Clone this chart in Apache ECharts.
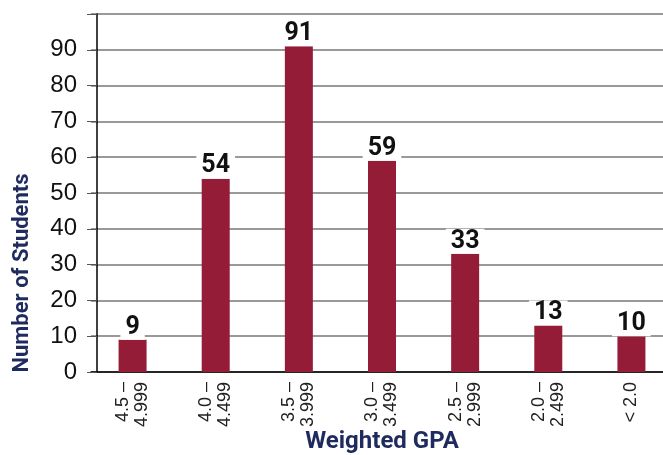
<!DOCTYPE html>
<html>
<head>
<meta charset="utf-8">
<script src="https://cdn.jsdelivr.net/npm/echarts@6/dist/echarts.min.js"></script>
<style>
  html, body { margin: 0; padding: 0; background: #fff; }
  #chart { width: 663px; height: 455px; }
</style>
</head>
<body>
<div id="chart"></div>
<script>
{
    var dom = document.querySelector('#chart');
    var myChart = echarts.init(dom, null, { renderer: 'canvas' });

    const categories = ['4.5 –\n4.999', '4.0 –\n4.499', '3.5 –\n3.999', '3.0 –\n3.499', '2.5 –\n2.999', '2.0 –\n2.499', '< 2.0'];
    const students = [9, 54, 91, 59, 33, 13, 10];
    const yTicks = [0, 10, 20, 30, 40, 50, 60, 70, 80, 90, 100];

    const navy = '#1f2b5e';
    const bold = 'Roboto, sans-serif';
    const plain = '"Liberation Sans", Arial, sans-serif';

    const option = {
        animation: false,
        grid: { left: 91, top: 14, width: 582, bottom: 83, containLabel: false, outerBoundsMode: 'none' },
        xAxis: {
            type: 'category',
            data: categories,
            name: 'Weighted GPA',
            nameLocation: 'middle',
            nameGap: 58,
            nameMoveOverlap: false,
            nameTextStyle: {
                color: navy, fontFamily: bold, fontWeight: 'bold', fontSize: 24
            },
            axisLine: { lineStyle: { color: '#000', width: 1.5 } },
            axisTick: { length: 6, lineStyle: { color: '#555' }, interval: 0 },
            axisLabel: {
                rotate: 90, margin: 10, interval: 0,
                fontFamily: plain, fontSize: 18, color: '#222', lineHeight: 19
            }
        },
        yAxis: {
            type: 'value',
            min: 0, max: yTicks[yTicks.length - 1], interval: 10,
            offset: -6,
            axisLine: { show: true, lineStyle: { color: '#000', width: 1.5 } },
            axisTick: { show: true, length: 10, lineStyle: { color: '#555' } },
            axisLabel: {
                margin: 20, fontFamily: plain, fontSize: 24, color: '#111',
                formatter: v => (v >= 100 ? '' : String(v))
            },
            splitLine: { lineStyle: { color: '#777', width: 1.5 } }
        },
        graphic: [{
            type: 'text',
            x: 22, y: 273, rotation: Math.PI / 2,
            style: {
                text: 'Number of Students',
                fill: navy, font: 'bold 22px ' + bold,
                align: 'center', verticalAlign: 'middle'
            }
        }],
        series: [{
            type: 'bar',
            data: students,
            barWidth: 28,
            itemStyle: { color: '#951c37' },
            label: {
                show: true, position: 'top', distance: 0,
                fontFamily: bold, fontWeight: 'bold', fontSize: 25, color: '#111',
                backgroundColor: '#fff', padding: [0, 5, 0, 5]
            }
        }]
    };
    myChart.setOption(option);
}
</script>
</body>
</html>
